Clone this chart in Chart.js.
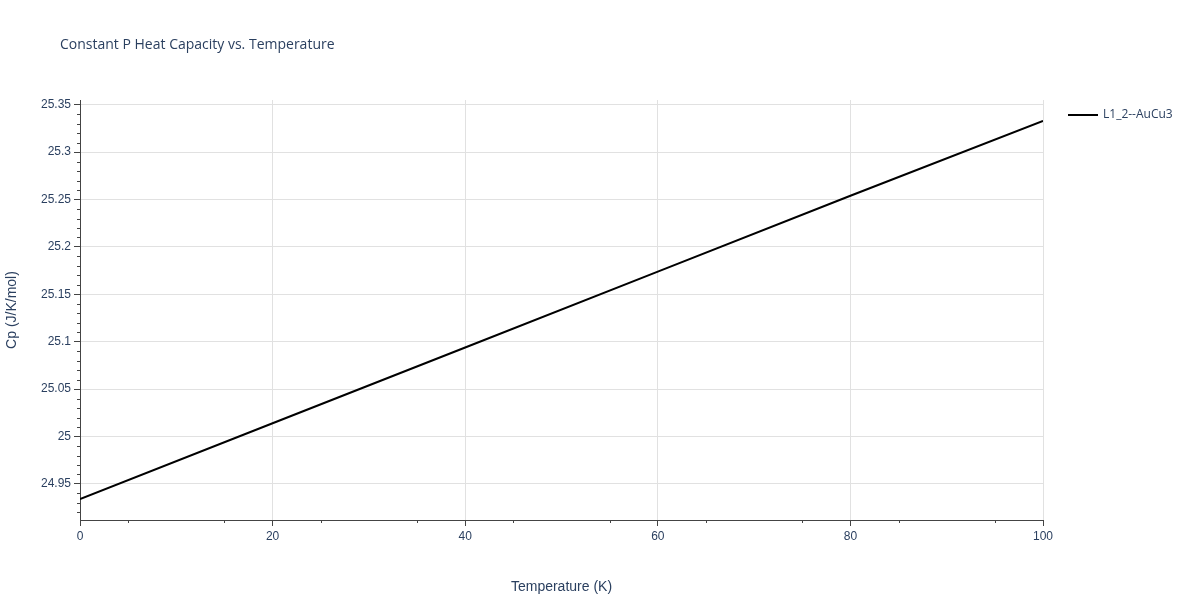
<!DOCTYPE html>
<html>
<head>
<meta charset="utf-8">
<script src="https://cdn.jsdelivr.net/npm/chart.js@4/dist/chart.umd.min.js"></script>
<style>
  html, body { margin: 0; padding: 0; background: #fff; }
</style>
</head>
<body>
<canvas id="cpChart" width="1200" height="600"></canvas>
<script>
const temperatures = [0, 20, 40, 60, 80, 100];
const cpValues = [24.934, 25.014, 25.094, 25.174, 25.254, 25.333];
const seriesName = 'L1_2--AuCu3';
const titleText = 'Constant P Heat Capacity vs. Temperature';

const textColor = '#2a3f5f';
const gridColor = '#e1e1e1';
const axisColor = '#444';

// title, legend and minor ticks drawn by hand
const extras = {
    id: 'extras',
    afterDraw(chart) {
        const ctx = chart.ctx;
        const x = chart.scales.x, y = chart.scales.y;
        ctx.save();
        ctx.font = '14px "Open Sans", sans-serif';
        ctx.fillStyle = textColor;
        ctx.textBaseline = 'middle';
        ctx.fillText(titleText, 60, 45);

        ctx.strokeStyle = '#000';
        ctx.lineWidth = 2;
        ctx.beginPath();
        ctx.moveTo(1068, 115);
        ctx.lineTo(1098, 115);
        ctx.stroke();
        ctx.font = '12px "Open Sans", sans-serif';
        ctx.fillText(seriesName, 1103, 115);

        ctx.strokeStyle = axisColor;
        ctx.lineWidth = 1;
        ctx.beginPath();
        for (let v = 5; v < 100; v += 10) {
            const px = Math.round(x.getPixelForValue(v)) + 0.5;
            ctx.moveTo(px, y.bottom);
            ctx.lineTo(px, y.bottom + 3);
        }
        for (let k = 0; k <= 45; k++) {
            const v = 24.91 + k * 0.01;
            if (v < y.min || v > y.max) continue;
            if (Math.abs(v * 20 - Math.round(v * 20)) < 1e-6) continue;
            const py = Math.round(y.getPixelForValue(v)) + 0.5;
            ctx.moveTo(x.left, py);
            ctx.lineTo(x.left - 3, py);
        }
        ctx.stroke();
        ctx.restore();
    }
};

new Chart(document.getElementById('cpChart'), {
    type: 'line',
    data: {
        datasets: [{
            label: seriesName,
            data: temperatures.map((t, i) => ({ x: t, y: cpValues[i] })),
            borderColor: '#000',
            borderWidth: 2,
            pointRadius: 0,
            tension: 0,
        }]
    },
    options: {
        responsive: false,
        animation: false,
        devicePixelRatio: 1,
        layout: { padding: { top: 100, right: 157, bottom: 0, left: 0 } },
        plugins: { legend: { display: false }, tooltip: { enabled: false } },
        scales: {
            x: {
                type: 'linear', min: 0, max: 100,
                ticks: { stepSize: 20, color: textColor, font: { size: 12 }, maxRotation: 0 },
                grid: { color: gridColor, tickColor: axisColor, tickLength: 6 },
                border: { display: true, color: axisColor },
                title: { display: true, text: 'Temperature (K)', color: textColor, font: { size: 14 } },
                afterFit(s) { s.height = 80; }
            },
            y: {
                min: 24.912, max: 25.355,
                afterBuildTicks(s) {
                    const t = [];
                    for (let v = 24.95; v <= 25.3501; v += 0.05) t.push({ value: +v.toFixed(2) });
                    s.ticks = t;
                },
                ticks: { color: textColor, font: { size: 12 }, callback: v => String(+(+v).toFixed(2)) },
                grid: { color: gridColor, tickColor: axisColor, tickLength: 6 },
                border: { display: true, color: axisColor },
                title: { display: true, text: 'Cp (J/K/mol)', color: textColor, font: { size: 14 } },
                afterFit(s) { s.width = 80; }
            }
        }
    },
    plugins: [extras]
});
</script>
</body>
</html>
